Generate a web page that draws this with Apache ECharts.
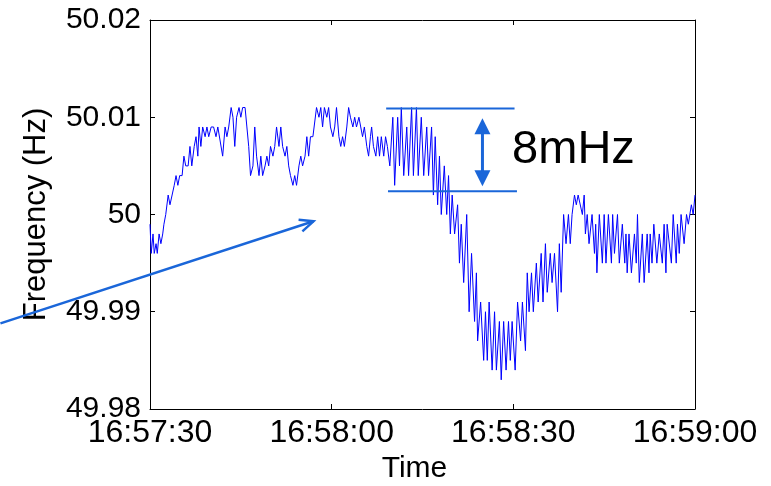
<!DOCTYPE html>
<html><head><meta charset="utf-8">
<script src="https://cdn.jsdelivr.net/npm/echarts@6/dist/echarts.min.js"></script>
<style>html,body{margin:0;padding:0;background:#fff}#c{width:771px;height:486px}</style>
</head><body><div id="c"></div>
<script>
// seconds after 16:57:30
const timeSec = [
0,0.2,0.5,0.7,1.0,1.2,1.5,1.8,2.1,2.3,
2.6,3.0,3.3,3.6,4.0,4.3,4.6,4.9,5.3,5.6,
5.9,6.3,6.6,6.9,7.3,7.6,7.9,8.1,8.4,8.7,
9.1,9.4,9.7,10.1,10.5,10.9,11.2,11.5,12.0,12.4,
12.7,13.0,13.4,13.7,14.0,14.3,14.7,15.0,15.3,15.7,
16.0,16.3,16.6,17.0,17.3,17.6,18.0,18.3,18.6,19.0,
19.3,19.6,19.9,20.3,20.6,20.9,21.3,21.6,21.9,22.3,
22.6,22.9,23.2,23.6,23.9,24.2,24.6,24.9,25.2,25.6,
25.9,26.2,26.5,26.9,27.2,27.5,27.9,28.2,28.5,28.8,
29.2,29.5,29.8,30.2,30.5,30.8,31.2,31.5,31.8,32.1,
32.5,32.8,33.1,33.5,33.8,34.1,34.5,34.8,35.1,35.4,
35.8,36.1,36.4,36.6,36.9,37.3,37.6,37.9,38.2,38.6,
38.9,39.2,39.6,40.1,40.4,40.9,41.2,41.5,41.9,42.4,
42.7,43.2,43.5,44.0,44.3,44.8,45.2,45.7,46.0,46.5,
46.8,47.1,47.5,47.8,48.1,48.6,49.0,49.3,49.6,49.9,
50.3,50.8,51.1,51.4,51.8,52.3,52.7,53.1,53.6,53.9,
54.1,54.6,55.1,55.4,55.7,56.0,56.5,56.9,57.2,57.7,
58.0,58.4,58.8,59.2,59.5,59.8,60.3,60.7,61.2,61.5,
62.0,62.3,62.6,63.0,63.3,63.8,64.1,64.6,64.9,65.3,
65.6,66.1,66.4,66.8,67.3,67.6,67.9,68.3,68.7,69.1,
69.4,69.7,70.1,70.4,70.7,71.0,71.4,71.7,71.9,72.2,
72.5,73.0,73.4,73.6,73.8,74.2,74.7,75.0,75.3,75.7,
76.2,76.4,76.7,77.2,77.5,78.0,78.4,78.6,78.8,79.1,
79.5,80.0,80.3,80.5,80.8,81.3,81.6,82.1,82.4,82.6,
82.9,83.2,83.7,84.1,84.6,84.9,85.2,85.4,86.1,86.4,
86.9,87.1,87.4,87.7,88.2,88.6,88.9,89.4,89.7,90.0
];
// frequency, Hz
const freqHz = [
49.999,49.996,49.998,49.996,49.997,49.996,49.998,49.997,49.998,49.999,
50,50.002,50.001,50.001,50.003,50.004,50.003,50.004,50.004,50.006,
50.005,50.005,50.007,50.005,50.007,50.008,50.006,50.009,50.007,50.009,
50.008,50.009,50.008,50.009,50.009,50.008,50.009,50.009,50.006,50.009,
50.008,50.009,50.011,50.01,50.007,50.01,50.011,50.01,50.011,50.011,
50.009,50.007,50.004,50.005,50.009,50.006,50.004,50.006,50.004,50.005,
50.006,50.005,50.007,50.006,50.007,50.009,50.007,50.009,50.007,50.006,
50.007,50.005,50.004,50.003,50.004,50.003,50.005,50.006,50.005,50.006,
50.008,50.006,50.008,50.008,50.008,50.011,50.01,50.011,50.009,50.011,
50.01,50.011,50.009,50.008,50.009,50.011,50.008,50.007,50.008,50.007,
50.009,50.011,50.01,50.009,50.01,50.009,50.01,50.009,50.008,50.009,
50.007,50.006,50.008,50.009,50.007,50.006,50.008,50.006,50.008,50.006,
50.008,50.007,50.005,50.01,50.003,50.01,50.005,50.011,50.004,50.009,
50.004,50.011,50.004,50.011,50.004,50.01,50.004,50.009,50.004,50.009,
50.002,50.008,50.001,50.006,50,50.005,50,50.004,49.998,50.002,
49.998,50.001,49.995,49.999,49.993,50,49.99,49.996,49.989,49.994,
49.987,49.991,49.985,49.99,49.985,49.991,49.984,49.99,49.984,49.989,
49.983,49.989,49.984,49.989,49.985,49.989,49.984,49.991,49.987,49.991,
49.986,49.994,49.99,49.994,49.99,49.995,49.991,49.996,49.991,49.997,
49.992,49.996,49.993,49.996,49.99,49.997,49.992,50,49.997,50,
49.997,50,50.002,50.001,50.002,50.002,50,50.002,49.998,50,
49.997,50,49.996,49.999,49.994,50,49.995,50,49.995,50,
49.995,50,49.996,50,49.995,49.999,49.995,49.998,49.994,49.998,
49.994,49.998,49.995,50,49.993,49.998,49.993,49.998,49.994,49.998,
49.995,49.999,49.995,49.998,49.995,49.999,49.994,49.999,49.995,50,
49.995,49.999,49.996,50,49.997,50,49.999,50.001,50,50.002
];
const xTickLabels = ['16:57:30','16:58:00','16:58:30','16:59:00'];
const yTickLabels = ['49.98','49.99','50','50.01','50.02'];

const FONT = '"Liberation Sans", Arial, Helvetica, sans-serif';
const chart = echarts.init(document.getElementById('c'));
const tickStyle = {show:true, inside:true, length:5, lineStyle:{color:'#000', width:1}};
const lineStyle = {show:true, onZero:false, lineStyle:{color:'#000', width:1}};
const xFmt = v => xTickLabels[Math.round(v/30)] || '';
const yFmt = v => yTickLabels[Math.round((v-49.98)/0.01)] || '';

const option = {
  animation:false,
  backgroundColor:'#fff',
  grid:{left:150, right:76, top:20, bottom:77, containLabel:false, outerBoundsMode:'none'},
  xAxis:[
    {type:'value', min:0, max:90, interval:30, position:'bottom',
     axisLine:lineStyle, axisTick:tickStyle, splitLine:{show:false},
     axisLabel:{formatter:xFmt, color:'#000', fontSize:32, fontFamily:FONT, margin:8},
     name:'Time', nameLocation:'middle', nameGap:45,
     nameTextStyle:{color:'#000', fontSize:30, fontFamily:FONT, padding:[0,16,0,0]}},
    {type:'value', min:0, max:90, interval:30, position:'top',
     axisLine:lineStyle, axisTick:tickStyle, splitLine:{show:false}, axisLabel:{show:false}}
  ],
  yAxis:[
    {type:'value', min:49.98, max:50.02, interval:0.01, position:'left',
     axisLine:lineStyle, axisTick:tickStyle, splitLine:{show:false},
     axisLabel:{formatter:yFmt, color:'#000', fontSize:30, fontFamily:FONT, margin:9},
     name:'Frequency (Hz)', nameLocation:'middle', nameGap:98, nameRotate:90,
     nameTextStyle:{color:'#000', fontSize:31, fontFamily:FONT}},
    {type:'value', min:49.98, max:50.02, interval:0.01, position:'right',
     axisLine:lineStyle, axisTick:tickStyle, splitLine:{show:false}, axisLabel:{show:false}}
  ],
  series:[{
    type:'line', xAxisIndex:0, yAxisIndex:0, showSymbol:false, symbol:'none',
    lineStyle:{color:'#0000ff', width:1}, clip:true,
    data: timeSec.map((t,i)=>[t, freqHz[i]])
  }]
};
chart.setOption(option);

// annotations anchored in data space
const ANNO = '#1a66d9';
const P = (t,v) => chart.convertToPixel({xAxisIndex:0, yAxisIndex:0}, [t,v]);
const g = [];
function hline(t0,t1,v){
  const a=P(t0,v), b=P(t1,v);
  g.push({type:'line', shape:{x1:a[0],y1:a[1],x2:b[0],y2:b[1]}, style:{stroke:ANNO, lineWidth:2}, z:50});
}
hline(39.0, 60.2, 50.0109);
hline(39.3, 60.6, 50.0024);
// double arrow
(function(){
  const top=P(54.9,50.0099), bot=P(54.9,50.0029);
  const x=top[0], hw=8, hh=16;
  g.push({type:'line', shape:{x1:x,y1:top[1]+hh-1,x2:x,y2:bot[1]-hh+1}, style:{stroke:ANNO, lineWidth:3}, z:50});
  g.push({type:'polygon', shape:{points:[[x,top[1]],[x-hw,top[1]+hh],[x+hw,top[1]+hh]]}, style:{fill:ANNO}, z:50});
  g.push({type:'polygon', shape:{points:[[x,bot[1]],[x-hw,bot[1]-hh],[x+hw,bot[1]-hh]]}, style:{fill:ANNO}, z:50});
  const tp=P(59.8,50.0066);
  g.push({type:'text', x:tp[0], y:tp[1], style:{text:'8mHz', fill:'#000', font:'47px '+FONT, textAlign:'left', textVerticalAlign:'middle'}, z:50});
})();
// pointer arrow
(function(){
  const a=P(-24.7,49.9888), b=P(27.0,49.9993);
  g.push({type:'line', shape:{x1:a[0],y1:a[1],x2:b[0],y2:b[1]}, style:{stroke:ANNO, lineWidth:2.5}, z:50});
  const ang=Math.atan2(a[1]-b[1], a[0]-b[0]), L=15, s=0.42;
  const p1=[b[0]+L*Math.cos(ang+s), b[1]+L*Math.sin(ang+s)];
  const p2=[b[0]+L*Math.cos(ang-s), b[1]+L*Math.sin(ang-s)];
  g.push({type:'polyline', shape:{points:[p1,b,p2]}, style:{stroke:ANNO, lineWidth:2.5, fill:null}, z:50});
})();
chart.setOption({graphic:g});
</script>
</body></html>
